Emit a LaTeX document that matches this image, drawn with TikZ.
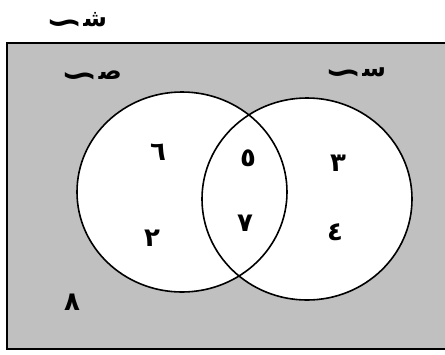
\documentclass[tikz,border=0pt]{standalone}
\usepackage{fontspec}
\newfontfamily\arabicfont[Script=Arabic]{DejaVu Sans}
\TeXXeTstate=1
\definecolor{venngrey}{HTML}{C0C0C0}
% set name: letter with the swung dash on its lower left
\newcommand{\setletter}[1]{\raisebox{-8pt}{\scalebox{1.9}[1.5]{∼}}\beginR #1‍\endR}

\begin{document}
\begin{tikzpicture}[x=1pt, y=-1pt,
    setname/.style={font=\arabicfont\bfseries\fontsize{24}{26}\selectfont, inner sep=0pt},
    elem/.style={font=\arabicfont\bfseries\fontsize{26}{28}\selectfont, inner sep=0pt},
    ring/.style={draw=black, line width=1.6pt}
  ]
    \useasboundingbox (0,0) rectangle (445,354);
    \clip (0,0) rectangle (445,354);
    % universal set
    \draw[fill=venngrey, line width=2.4pt] (7,43) rectangle (460,349);
    % the two sets
    \fill[white] (182,192) ellipse [x radius=105pt, y radius=100pt];
    \fill[white] (307,199) ellipse [x radius=105pt, y radius=101pt];
    \draw[ring] (182,192) ellipse [x radius=105pt, y radius=100pt];
    \draw[ring] (307,199) ellipse [x radius=105pt, y radius=101pt];

    \node[setname] (U) at (76,23) {\setletter{ش}};
    \node[setname] (Y) at (91,79) {\setletter{ص}};
    \node[setname] (X) at (355,76) {\setletter{س}};

    \node[elem] (six) at (158,152) {٦};
    \node[elem] (two) at (152,238) {٢};
    \node[elem] (five) at (248,158) {٥};
    \node[elem] (seven) at (245,223) {٧};
    \node[elem] (three) at (338,163) {٣};
    \node[elem] (four) at (335,232) {٤};
    \node[elem] (eight) at (72,302) {٨};
\end{tikzpicture}
\end{document}
